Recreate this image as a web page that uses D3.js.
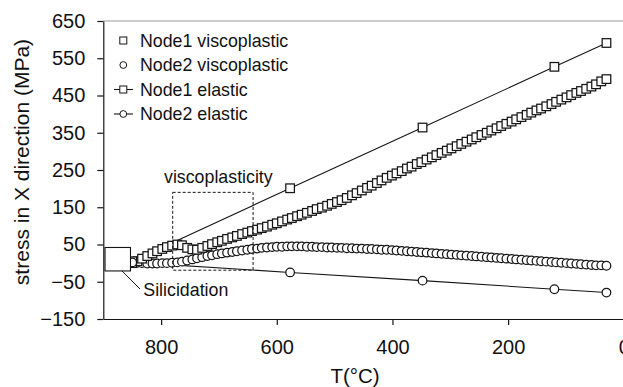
<!DOCTYPE html>
<html>
<head>
<meta charset="utf-8">
<script src="https://cdn.jsdelivr.net/npm/d3@7"></script>
<style>
  html, body { margin: 0; padding: 0; background: #fff; }
  svg { display: block; font-family: "Liberation Sans", Arial, sans-serif; }
</style>
</head>
<body>
<svg id="chart" width="623" height="387"></svg>
<script>
// Temperatures (°C) of the cooling-step results
const temps = [850,841,833,824,815,807,798,790,781,772,
  764,755,746,738,729,720,712,703,695,686,
  677,669,660,651,643,634,626,617,608,600,
  591,582,574,565,557,548,539,531,522,513,
  505,496,488,479,470,462,453,444,436,427,
  419,410,401,393,384,375,367,358,350,341,
  332,324,315,306,298,289,281,272,263,255,
  246,237,229,220,212,203,194,186,177,168,
  160,151,143,134,125,117,108,99,91,82,
  74,65,56,48,39,30];

// Stress in X direction (MPa), viscoplastic model
const node1Visco = [0,5,12,19,26,32,38,43,47,50,
  48,41,37,36,41,46,51,56,60,65,
  69,73,78,82,86,90,94,98,103,107,
  112,117,121,126,130,135,140,145,149,154,
  159,164,169,175,182,188,195,202,208,215,
  222,229,235,241,247,254,259,266,271,278,
  284,290,296,302,308,314,320,326,332,338,
  344,350,356,362,368,374,380,386,392,398,
  404,410,415,421,427,433,439,445,451,457,
  462,468,474,480,488,494];
const node2Visco = [3,1,0,-1,-1,-1,0,0,1,2,
  4,7,10,13,16,19,21,24,26,28,
  30,32,34,36,38,39,41,42,43,44,
  44,45,45,45,45,44,44,43,43,42,
  42,41,41,40,40,39,39,38,38,37,
  36,36,35,34,33,32,31,30,29,28,
  27,26,25,24,23,22,21,20,19,18,
  17,16,15,14,13,12,11,10,9,8,
  7,6,5,4,3,2,1,0,-1,-2,
  -3,-4,-5,-6,-6,-7];

// Elastic model results
const elasticTemps = [850, 577, 348, 120, 30];
const node1Elastic = [5, 201, 364, 527, 591];
const node2Elastic = [2, -25, -47, -70, -79];

// Axis ticks
const xTicks = [800, 600, 400, 200, 0];
const yTicks = [650, 550, 450, 350, 250, 150, 50, -50, -150];

// Annotation regions (data units)
const viscoBox = { t: [780, 641], s: [-19, 190] };
const silicidationBox = { t: [897, 853], s: [-21, 42] };

const legendItems = [
  { label: "Node1 viscoplastic", shape: "square", line: false },
  { label: "Node2 viscoplastic", shape: "circle", line: false },
  { label: "Node1 elastic", shape: "square", line: true },
  { label: "Node2 elastic", shape: "circle", line: true }
];

const ink = "#151515";
const svg = d3.select("#chart");

const x = d3.scaleLinear().domain([900, 0]).range([103.3, 623.8]);
const y = d3.scaleLinear().domain([-150, 650]).range([319, 21]);

// top frame line
svg.append("line")
  .attr("x1", x(900)).attr("x2", x(0))
  .attr("y1", y(650)).attr("y2", y(650))
  .attr("stroke", "#9a9a9a").attr("stroke-width", 1);

// axes
const gx = svg.append("g")
  .attr("transform", `translate(0,${y(-150)})`)
  .call(d3.axisBottom(x).tickValues(xTicks).tickFormat(d3.format("d"))
    .tickSize(6).tickSizeOuter(0).tickPadding(15));
const gy = svg.append("g")
  .attr("transform", `translate(${x(900)},0)`)
  .call(d3.axisLeft(y).tickValues(yTicks).tickFormat(d3.format("d"))
    .tickSize(6).tickSizeOuter(0).tickPadding(12));
[gx, gy].forEach(g => {
  g.select(".domain").attr("stroke", ink).attr("stroke-width", 1.2);
  g.selectAll(".tick line").attr("stroke", ink).attr("stroke-width", 1.2);
  g.selectAll(".tick text").attr("fill", "#111").style("font-size", "20px")
    .style("font-family", '"Liberation Sans", Arial, sans-serif');
});

// axis titles
svg.append("text")
  .attr("x", 355).attr("y", 383)
  .attr("text-anchor", "middle")
  .style("font-size", "20.5px").attr("fill", "#111")
  .text("T(°C)");
svg.append("text")
  .attr("transform", `translate(29,${(y(650) + y(-150)) / 2 - 8}) rotate(-90)`)
  .attr("text-anchor", "middle")
  .style("font-size", "21px").attr("fill", "#111")
  .text("stress in X direction (MPa)");

// marker helpers
const sq = 8.6, rad = 4.3;
function drawSquares(g, ts, vs, size) {
  g.selectAll(null).data(ts.map((t, i) => [t, vs[i]])).join("rect")
    .attr("x", d => x(d[0]) - size / 2).attr("y", d => y(d[1]) - size / 2)
    .attr("width", size).attr("height", size)
    .attr("fill", "#fff").attr("stroke", ink).attr("stroke-width", 1.25);
}
function drawCircles(g, ts, vs, r) {
  g.selectAll(null).data(ts.map((t, i) => [t, vs[i]])).join("circle")
    .attr("cx", d => x(d[0])).attr("cy", d => y(d[1])).attr("r", r)
    .attr("fill", "#fff").attr("stroke", ink).attr("stroke-width", 1.25);
}

const line = d3.line().x(d => x(d[0])).y(d => y(d[1]));

// elastic lines
const gEl = svg.append("g");
[node1Elastic, node2Elastic].forEach(vs => {
  gEl.append("path")
    .attr("d", line(elasticTemps.map((t, i) => [t, vs[i]])))
    .attr("fill", "none").attr("stroke", ink).attr("stroke-width", 1.1);
});

// viscoplastic markers
drawCircles(svg.append("g"), temps, node2Visco, rad);
drawSquares(svg.append("g"), temps, node1Visco, sq);

// elastic markers
drawSquares(svg.append("g"), elasticTemps, node1Elastic, sq);
drawCircles(svg.append("g"), elasticTemps, node2Elastic, rad);

// viscoplasticity region
svg.append("rect")
  .attr("x", x(viscoBox.t[0])).attr("y", y(viscoBox.s[1]))
  .attr("width", x(viscoBox.t[1]) - x(viscoBox.t[0]))
  .attr("height", y(viscoBox.s[0]) - y(viscoBox.s[1]))
  .attr("fill", "none").attr("stroke", ink).attr("stroke-width", 1)
  .attr("stroke-dasharray", "3,2");
svg.append("text")
  .attr("x", 164).attr("y", 182.5)
  .style("font-size", "17.8px").attr("fill", "#111")
  .text("viscoplasticity");

// silicidation marker
svg.append("rect")
  .attr("x", x(silicidationBox.t[0])).attr("y", y(silicidationBox.s[1]))
  .attr("width", x(silicidationBox.t[1]) - x(silicidationBox.t[0]))
  .attr("height", y(silicidationBox.s[0]) - y(silicidationBox.s[1]))
  .attr("fill", "#fff").attr("stroke", ink).attr("stroke-width", 1.1);
svg.append("line")
  .attr("x1", 122).attr("y1", y(silicidationBox.s[0]))
  .attr("x2", 140).attr("y2", 289)
  .attr("stroke", ink).attr("stroke-width", 1);
svg.append("text")
  .attr("x", 143.3).attr("y", 296)
  .style("font-size", "17.8px").attr("fill", "#111")
  .text("Silicidation");

// legend
const lg = svg.append("g");
const rowY = [40.5, 65, 89.5, 114];
legendItems.forEach((it, i) => {
  const cy = rowY[i], cx = 123.3;
  if (it.line) {
    lg.append("line").attr("x1", 114).attr("x2", 133).attr("y1", cy).attr("y2", cy)
      .attr("stroke", ink).attr("stroke-width", 1.1);
  }
  if (it.shape === "square") {
    lg.append("rect").attr("x", cx - 3.5).attr("y", cy - 3.5).attr("width", 7).attr("height", 7)
      .attr("fill", "#fff").attr("stroke", ink).attr("stroke-width", 1);
  } else {
    lg.append("circle").attr("cx", cx).attr("cy", cy).attr("r", 3.4)
      .attr("fill", "#fff").attr("stroke", ink).attr("stroke-width", 1);
  }
  lg.append("text").attr("x", 140).attr("y", cy).attr("dy", "0.35em")
    .style("font-size", "17.8px").attr("fill", "#111").text(it.label);
});
</script>
</body>
</html>
